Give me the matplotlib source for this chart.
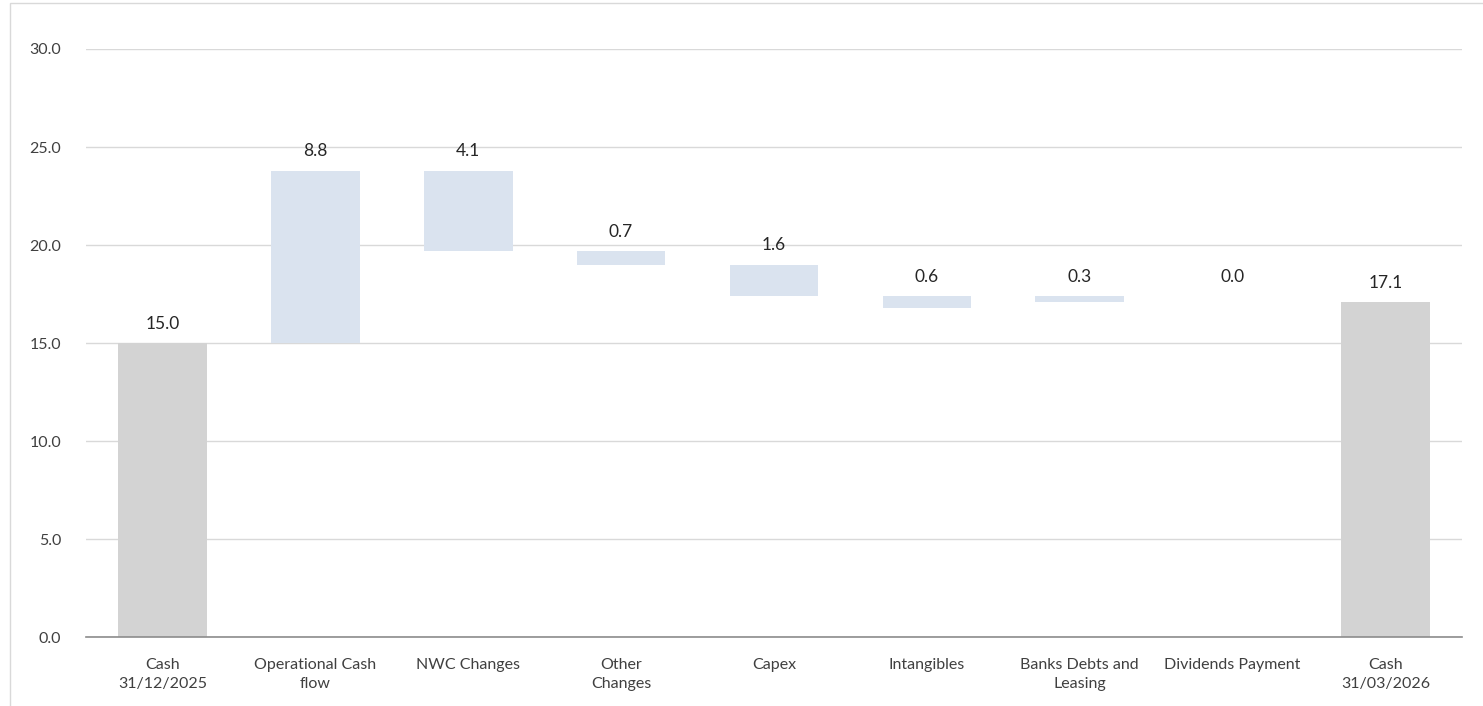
import matplotlib.pyplot as plt
from matplotlib.patches import Rectangle
import numpy as np

# waterfall data
categories = [
    "Cash\n31/12/2025",
    "Operational Cash\nflow",
    "NWC Changes",
    "Other\nChanges",
    "Capex",
    "Intangibles",
    "Banks Debts and\nLeasing",
    "Dividends Payment",
    "Cash\n31/03/2026",
]
labels = [15.0, 8.8, 4.1, 0.7, 1.6, 0.6, 0.3, 0.0, 17.1]
bar_low = [0.0, 15.0, 19.7, 19.0, 17.4, 16.8, 17.1, 17.4, 0.0]
bar_high = [15.0, 23.8, 23.8, 19.7, 19.0, 17.4, 17.4, 17.4, 17.1]
is_total = [True, False, False, False, False, False, False, False, True]
yticks = [0, 5, 10, 15, 20, 25, 30]


def _main():
    plt.rcParams["font.family"] = ["Lato", "DejaVu Sans"]

    fig = plt.figure(figsize=(14.83, 7.06), dpi=100)
    ax = fig.add_axes([0.058, 0.0977, 0.9278, 0.8329])

    x = np.arange(len(categories))
    low = np.array(bar_low)
    high = np.array(bar_high)
    colors = ["#d3d3d3" if t else "#dae3ef" for t in is_total]

    ax.bar(x, high - low, bottom=low, width=0.58, color=colors, zorder=2)

    for xi, top, lab in zip(x, high, labels):
        ax.annotate(
            f"{lab:.1f}",
            (xi, top),
            xytext=(0, 8),
            textcoords="offset points",
            ha="center",
            va="bottom",
            fontsize=12.5,
            color="#262626",
        )

    ax.set_xlim(-0.5, len(categories) - 0.5)
    ax.set_ylim(0, 30)
    ax.set_yticks(yticks)
    ax.set_yticklabels([f"{v:.1f}" for v in yticks])
    ax.set_xticks(x)
    ax.set_xticklabels(categories, linespacing=1.45)

    ax.grid(axis="y", color="#d9d9d9", linewidth=1, zorder=0)
    for s in ["left", "right", "top"]:
        ax.spines[s].set_visible(False)
    ax.spines["bottom"].set_color("#8c8c8c")
    ax.spines["bottom"].set_linewidth(1.2)
    ax.spines["bottom"].set_zorder(3)
    ax.tick_params(axis="both", length=0, labelsize=11.5, colors="#404040")
    ax.tick_params(axis="x", pad=15)
    ax.tick_params(axis="y", pad=18)

    # outer chart frame
    fig.patches.append(
        Rectangle(
            (0.007, -0.02),
            1.5,
            1.0158,
            transform=fig.transFigure,
            fill=False,
            edgecolor="#d9d9d9",
            linewidth=1,
        )
    )

    fig.savefig("out.png", dpi=100)


if __name__ == "__main__":
    _main()
